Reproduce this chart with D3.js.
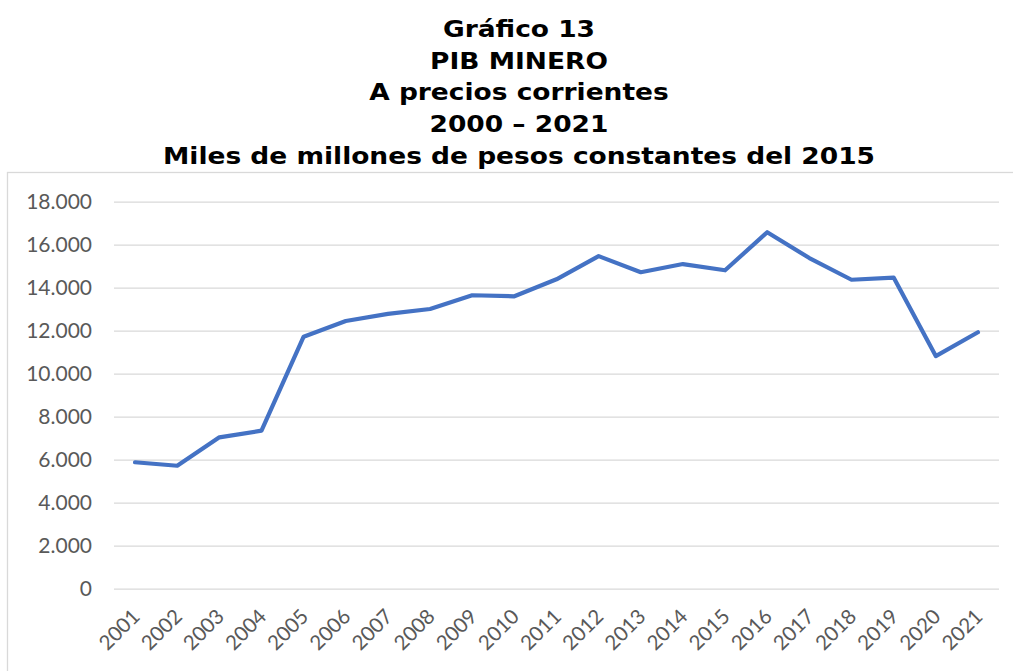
<!DOCTYPE html>
<html>
<head>
<meta charset="utf-8">
<script src="https://cdn.jsdelivr.net/npm/d3@7"></script>
<style>
  html, body { margin: 0; padding: 0; background: #fff; }
  svg { display: block; }
</style>
</head>
<body>
<svg id="chart" width="1013" height="671"></svg>
<script>
const titleLines = ["Gráfico 13", "PIB MINERO", "A precios corrientes", "2000 – 2021", "Miles de millones de pesos constantes del 2015"];
const years = ["2001","2002","2003","2004","2005","2006","2007","2008","2009","2010","2011","2012","2013","2014","2015","2016","2017","2018","2019","2020","2021"];
const pibMinero = [5880, 5720, 7040, 7350, 11720, 12450, 12780, 13010, 13650, 13600, 14390, 15470, 14720, 15100, 14810, 16580, 15380, 14370, 14470, 10820, 11930];
const yTicks = [0, 2000, 4000, 6000, 8000, 10000, 12000, 14000, 16000, 18000];

const svg = d3.select("#chart");
const plot = { left: 114, right: 999, top: 201.7, bottom: 588.7 };

// chart frame
svg.append("rect")
  .attr("x", 7.5).attr("y", 172.5)
  .attr("width", 1100).attr("height", 600)
  .attr("fill", "none").attr("stroke", "#d9d9d9").attr("stroke-width", 1.3);

// title (Verdana-like bold, widened to match Verdana's wider glyphs)
const titles = svg.append("g").selectAll("text").data(titleLines).join("text")
  .attr("x", 519).attr("y", (d, i) => 36.7 + i * 31.8)
  .attr("text-anchor", "middle")
  .attr("font-family", "'DejaVu Sans', Verdana, sans-serif")
  .attr("font-weight", "bold").attr("font-size", 23)
  .attr("fill", "#000")
  .text(d => d);
titles.each(function() {
  const len = this.getComputedTextLength();
  d3.select(this).attr("textLength", len * 1.15).attr("lengthAdjust", "spacingAndGlyphs");
});

const x = d3.scaleBand().domain(years).range([plot.left, plot.right]);
const y = d3.scaleLinear().domain([0, 18000]).range([plot.bottom, plot.top]);

const fmt = v => d3.format(",")(v).replace(/,/g, ".");

// y axis (gridlines + labels)
const yAxis = d3.axisLeft(y).tickValues(yTicks).tickSize(-(plot.right - plot.left)).tickPadding(22).tickFormat(fmt);
const gy = svg.append("g").attr("transform", `translate(${plot.left},0)`).call(yAxis);
gy.select(".domain").remove();
gy.selectAll(".tick line").attr("stroke", "#d9d9d9").attr("stroke-width", 1.3);
gy.selectAll(".tick text")
  .attr("font-family", "Lato, 'Liberation Sans', sans-serif")
  .attr("font-size", 21).attr("fill", "#595959");

// x axis labels
const xAxis = d3.axisBottom(x).tickSize(0).tickPadding(0);
const gx = svg.append("g").attr("transform", `translate(0,${plot.bottom})`).call(xAxis);
gx.select(".domain").remove();
gx.selectAll(".tick text")
  .attr("font-family", "Lato, 'Liberation Sans', sans-serif")
  .attr("font-size", 20.5).attr("fill", "#595959")
  .attr("text-anchor", "end")
  .attr("dy", "0.35em")
  .attr("transform", "translate(1,24) rotate(-45)");

// line
const line = d3.line().x((d, i) => x(years[i]) + x.bandwidth() / 2).y(d => y(d));
svg.append("path").datum(pibMinero)
  .attr("d", line)
  .attr("fill", "none").attr("stroke", "#4472c4")
  .attr("stroke-width", 4.2).attr("stroke-linejoin", "round").attr("stroke-linecap", "round");
</script>
</body>
</html>
